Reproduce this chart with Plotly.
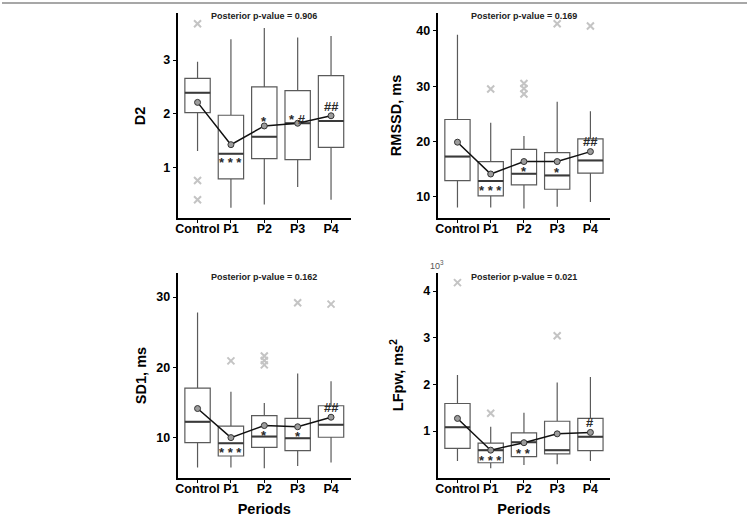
import plotly.graph_objects as go

categories = ["Control", "P1", "P2", "P3", "P4"]

# ---- D2 ----
d2_q1 = [2.02, 0.78, 1.16, 1.14, 1.37]
d2_med = [2.39, 1.25, 1.57, 1.82, 1.86]
d2_q3 = [2.66, 1.97, 2.50, 2.43, 2.71]
d2_lo = [1.30, 0.24, 0.30, 0.63, 0.39]
d2_hi = [2.97, 3.39, 3.60, 3.42, 3.45]
d2_mean = [2.21, 1.42, 1.77, 1.82, 1.96]
d2_out_cat = ["Control", "Control", "Control"]
d2_out_y = [3.68, 0.75, 0.39]
d2_sig = ["", "***", "*", "*#", "##"]
d2_sig_y = [None, 1.14, 1.90, 1.94, 2.10]

# ---- RMSSD ----
rm_q1 = [12.95, 10.2, 12.2, 11.4, 14.3]
rm_med = [17.3, 12.9, 14.2, 13.9, 16.6]
rm_q3 = [24.0, 16.4, 18.6, 18.0, 20.5]
rm_lo = [8.1, 8.1, 7.9, 8.25, 9.1]
rm_hi = [39.3, 23.4, 21.0, 27.2, 25.5]
rm_mean = [19.9, 14.15, 16.4, 16.4, 18.2]
rm_out_cat = ["P1", "P2", "P2", "P2", "P3", "P4"]
rm_out_y = [29.5, 30.5, 29.6, 28.6, 41.3, 40.9]
rm_sig = ["", "***", "*", "*", "##"]
rm_sig_y = [None, 11.7, 15.2, 14.9, 19.7]

# ---- SD1 ----
sd_q1 = [9.24, 7.33, 8.57, 8.1, 10.0]
sd_med = [12.2, 9.14, 10.1, 9.86, 11.8]
sd_q3 = [17.0, 11.6, 13.1, 12.7, 14.5]
sd_lo = [5.7, 5.7, 5.57, 5.9, 6.4]
sd_hi = [27.8, 16.5, 14.9, 19.1, 18.0]
sd_mean = [14.1, 9.95, 11.67, 11.5, 12.86]
sd_out_cat = ["P1", "P2", "P2", "P2", "P3", "P4"]
sd_out_y = [20.9, 21.6, 20.95, 20.33, 29.2, 29.0]
sd_sig = ["", "***", "*", "*", "##"]
sd_sig_y = [None, 8.3, 10.7, 10.6, 13.9]

# ---- LFpw (x 10^3 ms^2) ----
lf_q1 = [0.63, 0.32, 0.45, 0.51, 0.58]
lf_med = [1.08, 0.59, 0.76, 0.59, 0.88]
lf_q3 = [1.59, 0.74, 0.96, 1.21, 1.27]
lf_lo = [0.36, 0.20, 0.27, 0.29, 0.36]
lf_hi = [2.20, 1.09, 1.39, 2.04, 2.16]
lf_mean = [1.27, 0.59, 0.75, 0.94, 0.97]
lf_out_cat = ["Control", "P1", "P3"]
lf_out_y = [4.18, 1.38, 3.04]
lf_sig = ["", "***", "**", "", "#"]
lf_sig_y = [None, 0.44, 0.59, None, 1.15]

p_values = ["0.906", "0.169", "0.162", "0.021"]
y_titles = ["D2", "RMSSD, ms", "SD1, ms", "LFpw, ms<sup>2</sup>"]
y_ranges = [[0.05, 3.88], [6.2, 43.25], [4.23, 33.4], [0.0, 4.38]]
y_ticks = [[1, 2, 3], [10, 20, 30, 40], [10, 20, 30], [1, 2, 3, 4]]

panels = [
    (d2_q1, d2_med, d2_q3, d2_lo, d2_hi, d2_mean, d2_out_cat, d2_out_y, d2_sig, d2_sig_y),
    (rm_q1, rm_med, rm_q3, rm_lo, rm_hi, rm_mean, rm_out_cat, rm_out_y, rm_sig, rm_sig_y),
    (sd_q1, sd_med, sd_q3, sd_lo, sd_hi, sd_mean, sd_out_cat, sd_out_y, sd_sig, sd_sig_y),
    (lf_q1, lf_med, lf_q3, lf_lo, lf_hi, lf_mean, lf_out_cat, lf_out_y, lf_sig, lf_sig_y),
]

W, H = 747, 522
# pixel geometry of panels (left, right, top, bottom)
geom = [(176, 350, 13, 218), (436.7, 610, 13, 218),
        (176, 350, 273.3, 477.7), (436.7, 610, 273.3, 477.7)]

FONT = "Liberation Sans, Arial, sans-serif"
BOXW = 0.76
pos = {c: i for i, c in enumerate(categories)}

fig = go.Figure()
annotations = []
layout = {}

for k, (q1, med, q3, lo, hi, mean, oc, oy, sig, sigy) in enumerate(panels):
    n = "" if k == 0 else str(k + 1)
    xa, ya = "x" + n, "y" + n
    xs = list(range(len(categories)))
    fig.add_trace(go.Box(
        x=xs, q1=q1, median=med, q3=q3, lowerfence=lo, upperfence=hi,
        width=BOXW, boxpoints=False, fillcolor="white",
        line=dict(color="#5a5a5a", width=1.2), whiskerwidth=0,
        xaxis=xa, yaxis=ya, showlegend=False, hoverinfo="skip"))
    # thicker median lines
    mx, my = [], []
    for i, m in enumerate(med):
        mx += [i - BOXW / 2, i + BOXW / 2, None]
        my += [m, m, None]
    fig.add_trace(go.Scatter(x=mx, y=my, mode="lines",
                             line=dict(color="#3a3a3a", width=2),
                             xaxis=xa, yaxis=ya, showlegend=False, hoverinfo="skip"))
    # outliers
    fig.add_trace(go.Scatter(x=[pos[c] for c in oc], y=oy, mode="markers",
                             marker=dict(symbol="x-thin", size=7,
                                         line=dict(color="#c4c4c4", width=2)),
                             xaxis=xa, yaxis=ya, showlegend=False, hoverinfo="skip"))
    # mean line
    fig.add_trace(go.Scatter(x=xs, y=mean, mode="lines+markers",
                             line=dict(color="#111111", width=1.5),
                             marker=dict(symbol="circle", size=6, color="#9c9c9c",
                                         line=dict(color="#333333", width=1)),
                             xaxis=xa, yaxis=ya, showlegend=False, hoverinfo="skip"))
    # significance labels
    for i, (s, yy) in enumerate(zip(sig, sigy)):
        if s and yy is not None:
            txt = " ".join(s) if "*" in s else s
            annotations.append(dict(
                x=i, y=yy, xref=xa, yref=ya, text=txt,
                showarrow=False, yanchor="middle",
                yshift=-3 if s.startswith("*") else 2,
                font=dict(family=FONT, size=13, color="#2a2a2a", weight="bold")))

    l, r, t, b = geom[k]
    xdict = dict(
        domain=[l / W, r / W], anchor=ya, range=[-0.6, 4.6],
        tickvals=xs, ticktext=categories, showline=True, linecolor="black",
        linewidth=1.8, ticks="outside", ticklen=3, tickcolor="black", tickwidth=1.2,
        showgrid=False, zeroline=False, ticklabelstandoff=-5,
        tickfont=dict(family=FONT, size=12.5, color="black", weight="bold"))
    if k >= 2:
        xdict["title"] = dict(text="Periods",
                              font=dict(family=FONT, size=14.5, color="black", weight="bold"),
                              standoff=9)
    layout["xaxis" + n] = xdict
    layout["yaxis" + n] = dict(
        domain=[1 - b / H, 1 - t / H], anchor=xa, range=y_ranges[k],
        tickvals=y_ticks[k], showline=True, linecolor="black", linewidth=1.8,
        ticks="outside", ticklen=3, tickcolor="black", tickwidth=1.2,
        showgrid=False, zeroline=False,
        tickfont=dict(family=FONT, size=12.5, color="black", weight="bold"))
    # p-value title
    annotations.append(dict(
        x=0.5, y=1 - 3.5 / (b - t), xref=xa + " domain", yref=ya + " domain",
        text="<b>Posterior p-value = " + p_values[k] + "</b>", showarrow=False,
        yanchor="middle", font=dict(family=FONT, size=9, color="#222222")))
    # y title
    annotations.append(dict(
        x=(l - 37 if k % 2 == 0 else l - 41) / W, y=1 - ((t + b) / 2) / H,
        xref="paper", yref="paper", text="<b>" + y_titles[k] + "</b>",
        textangle=-90, showarrow=False, xanchor="center", yanchor="middle",
        font=dict(family=FONT, size=14.5, color="black")))

# exponent label for LFpw
annotations.append(dict(x=436 / W, y=1 - 265 / H, xref="paper", yref="paper",
                        text="10<sup>3</sup>", showarrow=False,
                        font=dict(family=FONT, size=9, color="#555555")))

fig.update_layout(
    width=W, height=H, margin=dict(l=0, r=0, t=0, b=0),
    paper_bgcolor="white", plot_bgcolor="white",
    annotations=annotations,
    shapes=[dict(type="line", xref="paper", yref="paper", x0=0, x1=1,
                 y0=1 - 3 / H, y1=1 - 3 / H, line=dict(color="#8a8a8a", width=1.5))],
    **layout)

fig.write_html("out.html")
